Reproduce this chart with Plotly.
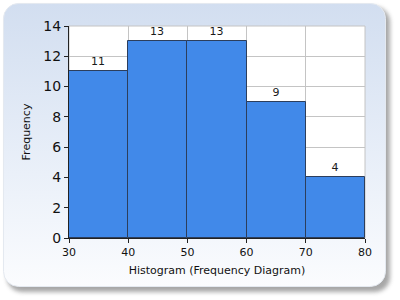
import base64
import plotly.graph_objects as go

bin_starts = [30, 40, 50, 60, 70]
bin_width = 10
frequencies = [11, 13, 13, 9, 4]
x_ticks = [30, 40, 50, 60, 70, 80]
y_ticks = [0, 2, 4, 6, 8, 10, 12, 14]

centers = [s + bin_width / 2 for s in bin_starts]

W, H = 400, 300
ML, MR, MT, MB = 69, 35, 26, 62
PW, PH = W - ML - MR, H - MT - MB

svg = """<svg xmlns='http://www.w3.org/2000/svg' width='400' height='300' viewBox='0 0 400 300'>
<defs>
<linearGradient id='g' x1='0' y1='0' x2='0' y2='1'>
<stop offset='0' stop-color='#d2def0'/>
<stop offset='0.6' stop-color='#eaf0f9'/>
<stop offset='1' stop-color='#fbfcfe'/>
</linearGradient>
<filter id='s' x='-10%' y='-10%' width='120%' height='120%'>
<feGaussianBlur stdDeviation='2.2'/>
</filter>
</defs>
<rect x='7' y='7' width='383' height='285' rx='15' ry='15' fill='#8a8a8a' opacity='0.75' filter='url(#s)'/>
<rect x='3.5' y='3.5' width='382' height='283' rx='15' ry='15' fill='url(#g)' stroke='#e4e9f0' stroke-width='1'/>
</svg>"""
uri = "data:image/svg+xml;base64," + base64.b64encode(svg.encode()).decode()

fig = go.Figure()
fig.add_trace(go.Bar(
    x=centers, y=frequencies, width=[bin_width] * len(centers),
    marker=dict(color="#4189e9", line=dict(color="#2c3e5c", width=1)),
    text=[str(v) for v in frequencies], textposition="outside",
    textfont=dict(family="DejaVu Sans", size=11, color="#1a1a1a"),
    cliponaxis=False,
))

fig.update_layout(
    width=W, height=H,
    margin=dict(l=ML, r=MR, t=MT, b=MB),
    paper_bgcolor="white",
    plot_bgcolor="rgba(0,0,0,0)",
    showlegend=False,
    bargap=0,
    images=[dict(source=uri, xref="paper", yref="paper",
                 x=-ML / PW, y=1 + MT / PH,
                 sizex=W / PW, sizey=H / PH, xanchor="left", yanchor="top",
                 layer="below", sizing="stretch")],
    xaxis=dict(
        range=[30, 80], tickvals=x_ticks, ticktext=[str(t) for t in x_ticks],
        showgrid=True, gridcolor="#c4c4c4", gridwidth=1,
        showline=True, linecolor="#222222", linewidth=1, mirror=False,
        ticks="outside", ticklen=4, tickcolor="#222222",
        tickfont=dict(family="DejaVu Sans", size=11, color="#111111"),
        title=dict(text="Histogram (Frequency Diagram)",
                   font=dict(family="DejaVu Sans", size=11, color="#111111"),
                   standoff=8),
        zeroline=False,
    ),
    yaxis=dict(
        range=[0, 14], tickvals=y_ticks, ticktext=[str(t) for t in y_ticks],
        showgrid=True, gridcolor="#c4c4c4", gridwidth=1,
        showline=True, linecolor="#222222", linewidth=1,
        ticks="outside", ticklen=4, tickcolor="#222222",
        tickfont=dict(family="DejaVu Sans", size=14, color="#111111"),
        title=dict(text="Frequency",
                   font=dict(family="DejaVu Sans", size=11, color="#111111"),
                   standoff=10),
        zeroline=False,
    ),
    shapes=[dict(type="rect", xref="paper", yref="paper", x0=0, y0=0, x1=1, y1=1,
                 fillcolor="white",
                 line=dict(color="#c4c4c4", width=1), layer="below")],
)

fig.write_html("out.html")
